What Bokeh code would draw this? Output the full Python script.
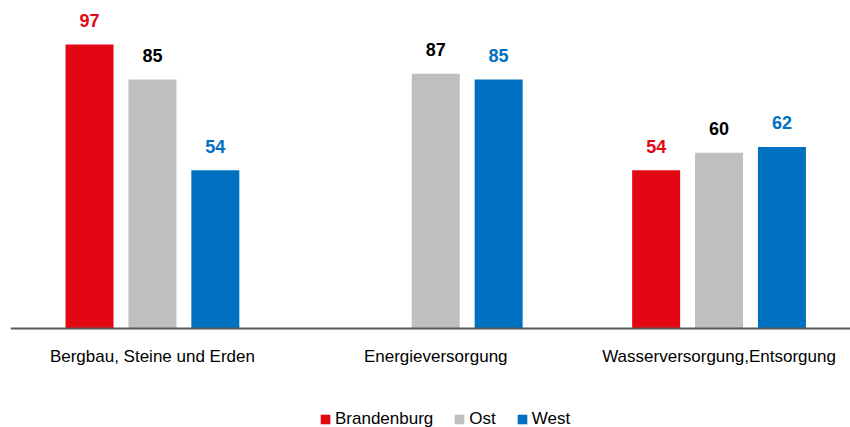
import numpy as np
from bokeh.plotting import figure
from bokeh.models import ColumnDataSource, Range1d, FixedTicker, Legend, LegendItem, LabelSet
from bokeh.core.properties import value
from bokeh.embed import file_html
from bokeh.resources import INLINE

categories = ["Bergbau, Steine und Erden", "Energieversorgung", "Wasserversorgung,Entsorgung"]
series = ["Brandenburg", "Ost", "West"]
brandenburg = [97, None, 54]
ost = [85, 87, 60]
west = [54, 85, 62]

colors = ["#E30613", "#BFBFBF", "#0070C0"]
label_colors = ["#E30613", "#000000", "#0070C0"]
offsets = [-0.222, 0.0, 0.222]
bar_width = 0.1694
FONT = "Liberation Sans"

p = figure(width=850, height=427, output_backend="svg", toolbar_location=None,
           x_range=Range1d(-0.501, 2.464), y_range=Range1d(-33.8, 112.0),
           min_border_left=10, min_border_right=0, min_border_top=0, min_border_bottom=0)
p.yaxis.visible = False

renderers = []
for name, vals, col, lc, off in zip(series, [brandenburg, ost, west], colors, label_colors, offsets):
    idx = [i for i, v in enumerate(vals) if v is not None]
    src = ColumnDataSource(dict(x=[i + off for i in idx],
                                top=[vals[i] for i in idx],
                                label=[str(vals[i]) for i in idx]))
    r = p.vbar(x="x", top="top", bottom=0, width=bar_width, source=src,
               fill_color=col, line_color=None)
    renderers.append(r)
    labels = LabelSet(x="x", y="top", text="label", source=src, y_offset=24,
                      text_align="center", text_baseline="middle",
                      text_font=value(FONT), text_font_style="bold",
                      text_font_size="18px", text_color=lc)
    p.add_layout(labels)

ax = p.xaxis[0]
ax.fixed_location = 0
ax.ticker = FixedTicker(ticks=[0, 1, 2])
ax.major_label_overrides = {i: c for i, c in enumerate(categories)}
ax.axis_line_color = "#595959"
ax.axis_line_width = 2
ax.major_tick_line_color = None
ax.minor_tick_line_color = None
ax.major_tick_out = 0
ax.major_tick_in = 0
ax.major_label_standoff = 18
ax.major_label_text_font = FONT
ax.major_label_text_font_size = "17px"
ax.major_label_text_color = "#000000"

p.xgrid.visible = False
p.ygrid.visible = False
p.outline_line_color = None

legend = Legend(items=[LegendItem(label=s, renderers=[r]) for s, r in zip(series, renderers)],
                orientation="horizontal", location=(309, -2),
                glyph_width=12, glyph_height=12, label_standoff=4, spacing=20,
                padding=0, margin=0, border_line_color=None, background_fill_alpha=0,
                label_text_font=FONT, label_text_font_size="17px", label_text_color="#000000")
p.add_layout(legend, "center")

open("out.html", "w").write(file_html(p, INLINE))
